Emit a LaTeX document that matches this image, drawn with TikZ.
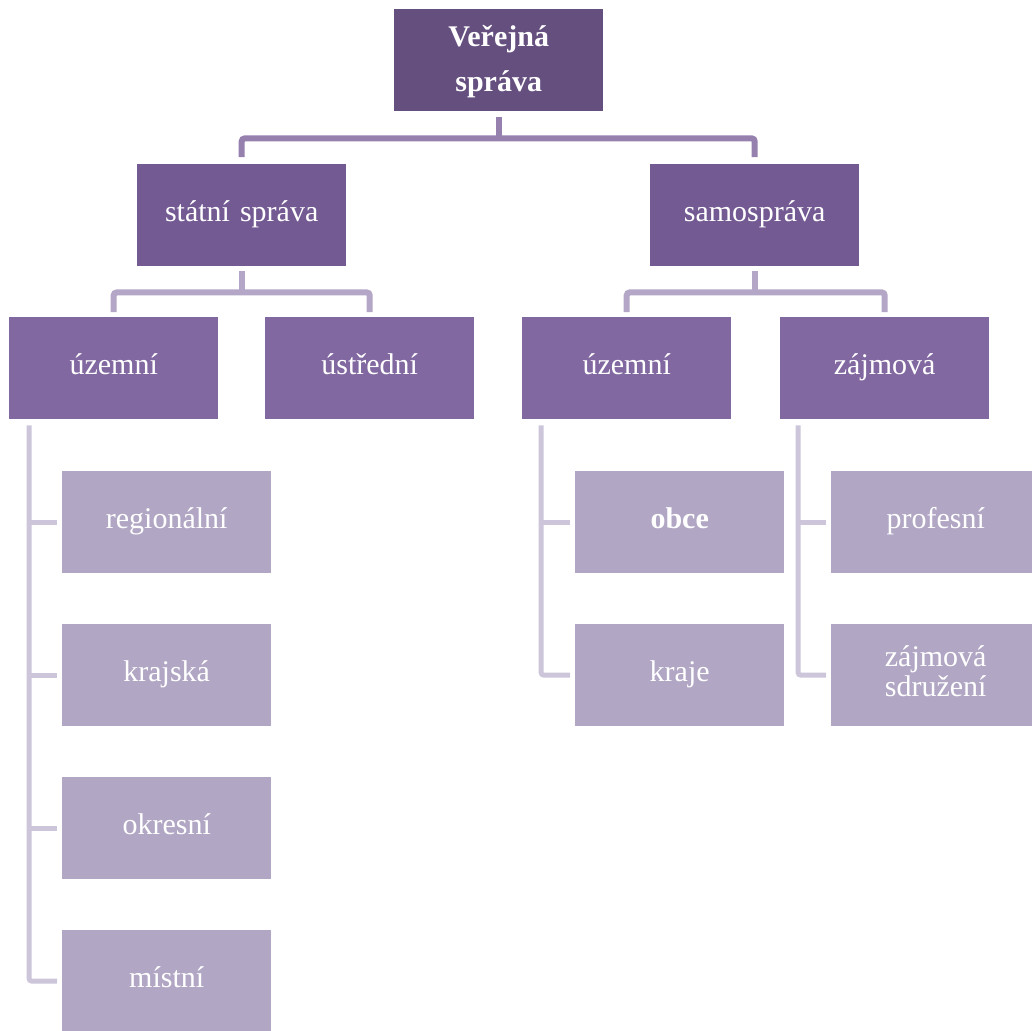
\documentclass[tikz,border=0pt]{standalone}
\usepackage{fontspec}
\setmainfont{Liberation Serif}
\definecolor{c0}{HTML}{654F7F}
\definecolor{c1}{HTML}{735A93}
\definecolor{c2}{HTML}{8268A0}
\definecolor{c3}{HTML}{B1A7C4}
\definecolor{l1}{HTML}{9580AE}
\definecolor{l2}{HTML}{B3A6C6}
\definecolor{l3}{HTML}{CDC5DA}
\begin{document}
\begin{tikzpicture}[x=1pt,y=-1pt,
  box/.style={anchor=north west, minimum height=102pt, inner sep=0pt,
    text width=209pt, align=center, text=white,
    font=\fontsize{30}{30}\selectfont,
    execute at begin node=\strut, execute at end node=\strut},
  lv0/.style={box, fill=c0, font=\fontsize{30}{45}\selectfont\bfseries},
  lv1/.style={box, fill=c1},
  lv2/.style={box, fill=c2},
  lv3/.style={box, fill=c3},
  con1/.style={draw=l1, line width=6pt, rounded corners=3pt},
  con2/.style={draw=l2, line width=6pt, rounded corners=3pt},
  con3/.style={draw=l3, line width=5pt, rounded corners=3pt}]
\useasboundingbox (0,0) rectangle (1032,1030);

\node[lv0] (root) at (394,9) {Veřejná\\správa};

\node[lv1] (ss) at (137,164) {státní správa};
\node[lv1] (sa) at (650,164) {samospráva};

\node[lv2] (u1) at (9,317) {územní};
\node[lv2] (us) at (265,317) {ústřední};
\node[lv2] (u2) at (522,317) {územní};
\node[lv2] (za) at (780,317) {zájmová};

\node[lv3] (reg) at (62,471) {regionální};
\node[lv3] (kr) at (62,624) {krajská};
\node[lv3] (ok) at (62,777) {okresní};
\node[lv3] (mi) at (62,930) {místní};

\node[lv3] (ob) at (575,471) {\bfseries obce};
\node[lv3] (kj) at (575,624) {kraje};

\node[lv3] (pr) at (831,471) {profesní};
\node[lv3] (zs) at (831,624) {zájmová\\sdružení};

% level 0 -> 1
\draw[con1] ([yshift=-6pt]root.south) -- ++(0,21) coordinate (j0);
\draw[con1] ([yshift=7pt]ss.north) |- (j0) -| ([yshift=7pt]sa.north);

% level 1 -> 2
\draw[con2] ([yshift=-5pt]ss.south) -- ++(0,21) coordinate (j1);
\draw[con2] ([yshift=5pt]u1.north) |- (j1) -| ([yshift=5pt]us.north);
\draw[con2] ([yshift=-5pt]sa.south) -- ++(0,21) coordinate (j2);
\draw[con2] ([yshift=5pt]u2.north) |- (j2) -| ([yshift=5pt]za.north);

% level 2 -> 3
\coordinate (v1) at ([xshift=20pt,yshift=-6pt]u1.south west);
\draw[con3] (v1) |- ([xshift=-5pt]mi.west);
\draw[con3] (v1 |- reg.west) -- ([xshift=-5pt]reg.west);
\draw[con3] (v1 |- kr.west) -- ([xshift=-5pt]kr.west);
\draw[con3] (v1 |- ok.west) -- ([xshift=-5pt]ok.west);

\coordinate (v2) at ([xshift=19pt,yshift=-6pt]u2.south west);
\draw[con3] (v2) |- ([xshift=-5pt]kj.west);
\draw[con3] (v2 |- ob.west) -- ([xshift=-5pt]ob.west);

\coordinate (v3) at ([xshift=18pt,yshift=-6pt]za.south west);
\draw[con3] (v3) |- ([xshift=-5pt]zs.west);
\draw[con3] (v3 |- pr.west) -- ([xshift=-5pt]pr.west);
\end{tikzpicture}
\end{document}
